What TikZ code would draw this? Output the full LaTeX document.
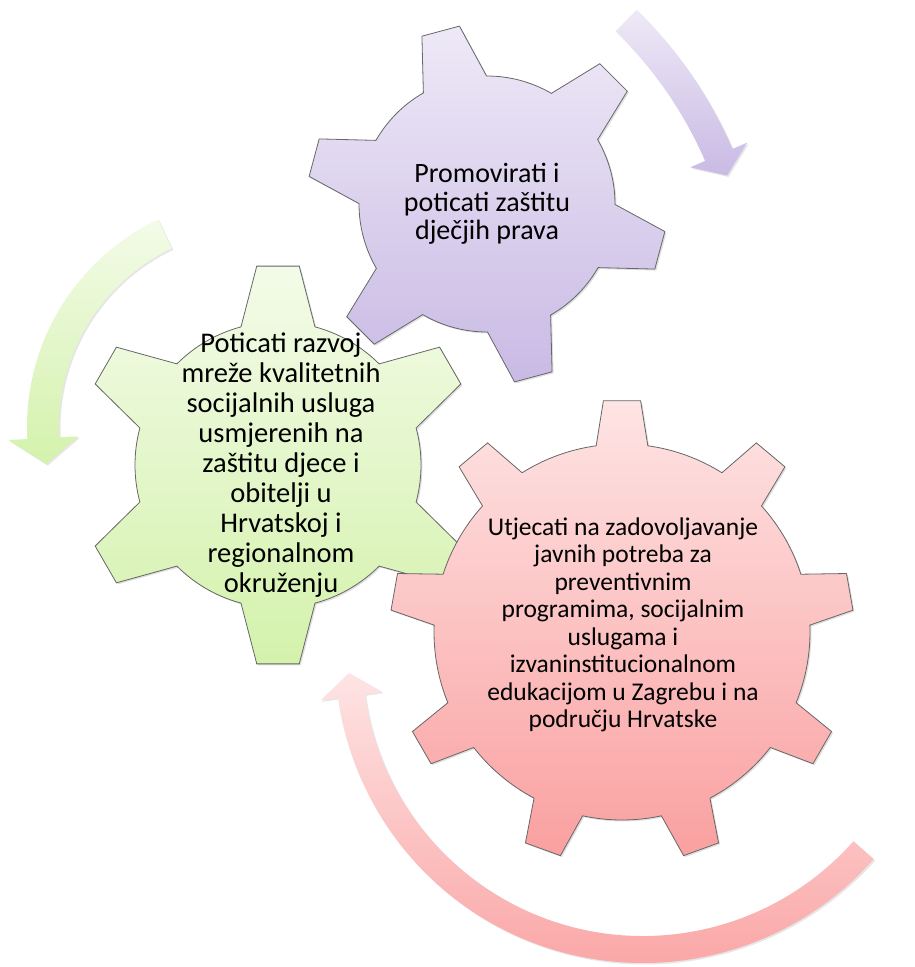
\documentclass[tikz,border=0pt]{standalone}
\usepackage{fontspec}
\setmainfont{Carlito}
\usetikzlibrary{shadows}

\definecolor{lilaTop}{RGB}{238,233,247}
\definecolor{lilaBot}{RGB}{201,186,228}
\definecolor{zelTop}{RGB}{243,251,232}
\definecolor{zelBot}{RGB}{212,242,172}
\definecolor{crvTop}{RGB}{254,228,228}
\definecolor{crvBot}{RGB}{250,160,160}

\begin{document}
\begin{tikzpicture}[x=1pt,y=1pt,
	gear/.style={draw=black!60, line width=0.8pt,
		drop shadow={opacity=0.25, shadow xshift=1.5pt, shadow yshift=-1.5pt}},
	arr/.style={drop shadow={opacity=0.2, shadow xshift=1.5pt, shadow yshift=-1.5pt}},
	lilatext/.style={align=center, font=\fontsize{28}{28.5}\selectfont},
	zeltext/.style={align=center, font=\fontsize{28.5}{30}\selectfont},
	crvtext/.style={align=center, font=\fontsize{25.5}{27.5}\selectfont}]
	\useasboundingbox (0,0) rectangle (914,967);

	% curved arrows
	\begin{scope}[shift={(330,643)}]
		\path[arr, top color=lilaTop, bottom color=lilaBot] (45.7:439)
		arc[start angle=45.7, end angle=23.5, radius=439] -- (23.5:455)
		-- (20.5:424) -- (23.5:393) -- (23.5:409)
		arc[start angle=23.5, end angle=45.7, radius=409] -- cycle;
	\end{scope}
	\begin{scope}[shift={(257,540)}]
		\path[arr, top color=zelTop, bottom color=zelBot] (115.5:230)
		arc[start angle=115.5, end angle=183, radius=230] -- (183:249)
		-- (190:214) -- (183:179) -- (183:198)
		arc[start angle=183, end angle=115.5, radius=198] -- cycle;
	\end{scope}
	\begin{scope}[shift={(643,312)}]
		\path[arr, top color=crvTop, bottom color=crvBot] (-41.5:308)
		arc[start angle=-41.5, end angle=-172, radius=308] -- (-172:325.5)
		-- (-176.5:294.5) -- (-172:263.5) -- (-172:281)
		arc[start angle=-172, end angle=-41.5, radius=281] -- cycle;
	\end{scope}

	% gears
	\begin{scope}[shift={(487,763)}]
		\path[gear, top color=lilaTop, bottom color=lilaBot] ({105-14.8}:128)
		\foreach \a in {105,165,...,405} {
			-- ({\a-6.2}:180) -- ({\a+6.2}:180) -- ({\a+14.8}:128)
			arc[start angle=\a+14.8, end angle=\a+45.2, radius=128]
		} -- cycle;
	\end{scope}
	\begin{scope}[shift={(278,502)}]
		\path[gear, top color=zelTop, bottom color=zelBot] ({90-15}:143)
		\foreach \a in {90,150,...,390} {
			-- ({\a-6.1}:200) -- ({\a+6.1}:200) -- ({\a+15}:143)
			arc[start angle=\a+15, end angle=\a+45, radius=143]
		} -- cycle;
	\end{scope}
	\begin{scope}[shift={(622,335)}]
		\path[gear, top color=crvTop, bottom color=crvBot] ({90-7.9}:188)
		\foreach \a in {90,130,...,410} {
			-- ({\a-4.6}:232) -- ({\a+4.6}:232) -- ({\a+7.9}:188)
			arc[start angle=\a+7.9, end angle=\a+32.1, radius=188]
		} -- cycle;
	\end{scope}

	\node[lilatext] (promo) at (487,763) {Promovirati i\\poticati zaštitu\\dječjih prava};
	\node[zeltext] (mreza) at (281,502) {Poticati razvoj\\mreže kvalitetnih\\socijalnih usluga\\usmjerenih na\\zaštitu djece i\\obitelji u\\Hrvatskoj i\\regionalnom\\okruženju};
	\node[crvtext] (potrebe) at (623,342) {Utjecati na zadovoljavanje\\javnih potreba za\\preventivnim\\programima, socijalnim\\uslugama i\\izvaninstitucionalnom\\edukacijom u Zagrebu i na\\području Hrvatske};
\end{tikzpicture}
\end{document}
